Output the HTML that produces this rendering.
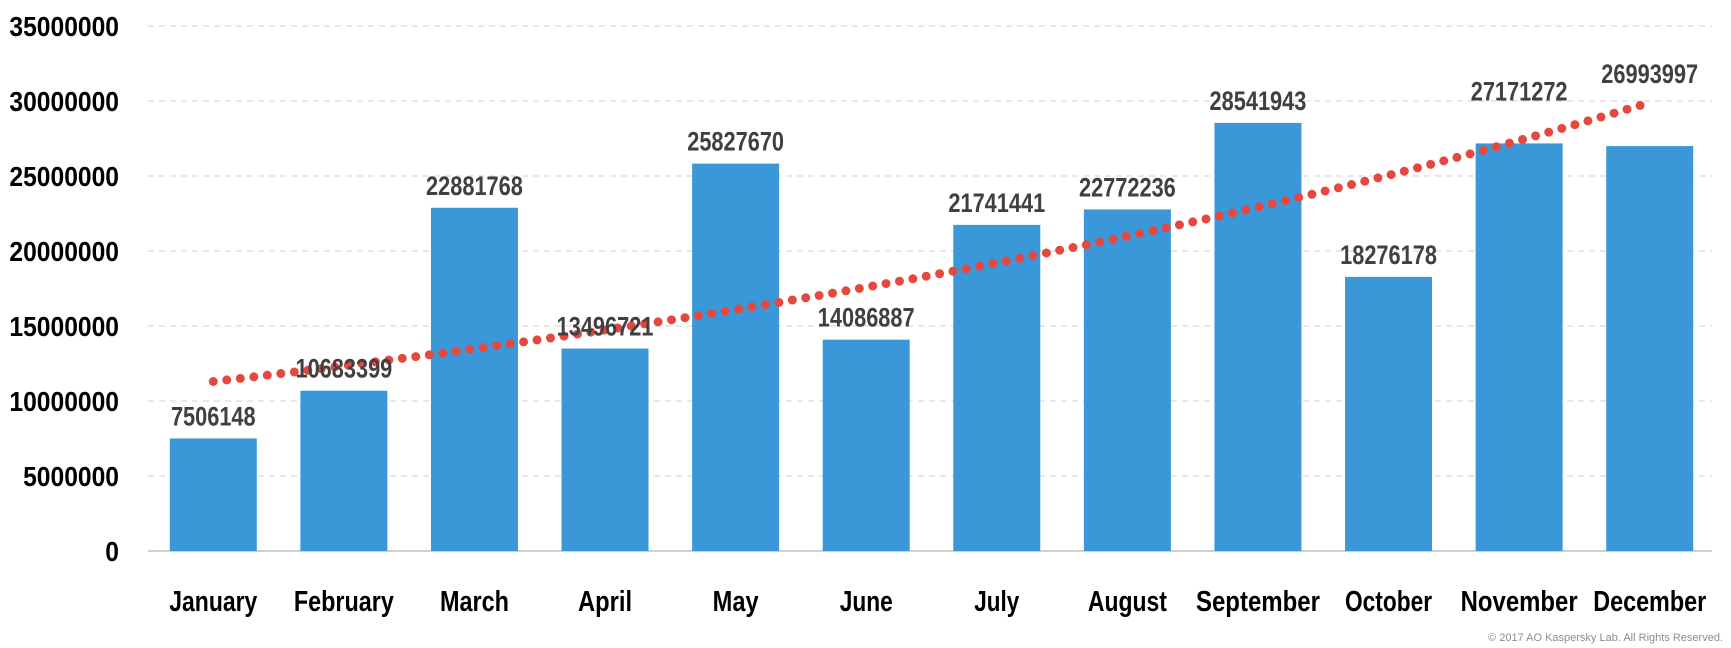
<!DOCTYPE html>
<html><head><meta charset="utf-8"><style>
html,body{margin:0;padding:0;background:#fff;}
svg{display:block;}
</style></head><body>
<svg id="chart" width="1731" height="648" viewBox="0 0 1731 648" xmlns="http://www.w3.org/2000/svg">
<g id="grid"></g>
<g id="yaxis"></g>
<g id="bars"></g>
<g id="trend"></g>
<g id="vlabels"></g>
<g id="xaxis"></g>
<text x="1723" y="641" text-anchor="end" font-family="'Liberation Sans Narrow','Liberation Sans',sans-serif" font-size="11" fill="#8c8c8c">© 2017 AO Kaspersky Lab. All Rights Reserved.</text>
</svg>
<script>
const categories = ["January","February","March","April","May","June","July","August","September","October","November","December"];
const values = [7506148,10683399,22881768,13496721,25827670,14086887,21741441,22772236,28541943,18276178,27171272,26993997];
const yTicks = [0,5000000,10000000,15000000,20000000,25000000,30000000,35000000];
const trendStart = 11300000;
const trendEnd = 29900000;

const NS="http://www.w3.org/2000/svg";
const plotL=148, plotR=1715, y0=551, yTop=26, yMax=35000000;
const band=(plotR-plotL)/categories.length, barW=87;
const y=v=>y0-(v/yMax)*(y0-yTop);
const xc=i=>plotL+band*(i+0.5);
const FONT="'Liberation Sans Narrow','Liberation Sans',sans-serif";
function mk(tag,attrs,parent){const e=document.createElementNS(NS,tag);for(const k in attrs)e.setAttribute(k,attrs[k]);parent.appendChild(e);return e;}

const grid=document.getElementById('grid'), ya=document.getElementById('yaxis');
yTicks.forEach(t=>{
  const g=mk('line',{x1:plotL,x2:1712,y1:y(t),y2:y(t),stroke:t===0?'#d0d0d0':'#d9d9d9','stroke-width':t===0?2:1.2,'stroke-dasharray':t===0?'none':'6 5'},grid);
  
  
  const s=String(t);
  const tx=mk('text',{x:119,y:y(t)+10,'text-anchor':'end','font-family':FONT,'font-weight':'bold','font-size':28,fill:'#000',textLength:s.length*13.7,lengthAdjust:'spacingAndGlyphs'},ya);
  tx.textContent=s;
  
  
});

const bars=document.getElementById('bars'), vl=document.getElementById('vlabels'), xa=document.getElementById('xaxis');
const xWidths=[88,100,69,54,46,53,45,79,124,87,117,113];
const labelLift=[0,0,0,0,0,0,0,0,0,0,30,50];
values.forEach((v,i)=>{
  const r=mk('rect',{x:xc(i)-barW/2,y:y(v),width:barW,height:y0-y(v),fill:'#3a98d8'},bars);
  
  
  const s=String(v);
  const t=mk('text',{x:xc(i),y:y(v)-13-labelLift[i],'text-anchor':'middle','font-family':FONT,'font-weight':'bold','font-size':27,fill:'#404040',textLength:s.length*12.1,lengthAdjust:'spacingAndGlyphs'},vl);
  t.textContent=s;
  
  
  const c=mk('text',{x:xc(i),y:611,'text-anchor':'middle','font-family':FONT,'font-weight':'bold','font-size':29,fill:'#000',textLength:xWidths[i],lengthAdjust:'spacingAndGlyphs'},xa);
  c.textContent=categories[i];
  
  
});

// exponential trend line
const n=categories.length, ratio=trendEnd/trendStart;
let d='';
for(let k=0;k<=200;k++){const f=k/200*(n-1);const v=trendStart*Math.pow(ratio,f/(n-1));d+=(k?'L':'M')+(xc(0)+band*f).toFixed(1)+' '+y(v).toFixed(1);}
const p=mk('path',{d:d,fill:'none',stroke:'#e5483f','stroke-width':9,'stroke-linecap':'round','stroke-dasharray':'0 13.6'},document.getElementById('trend'));


</script>
</body></html>
